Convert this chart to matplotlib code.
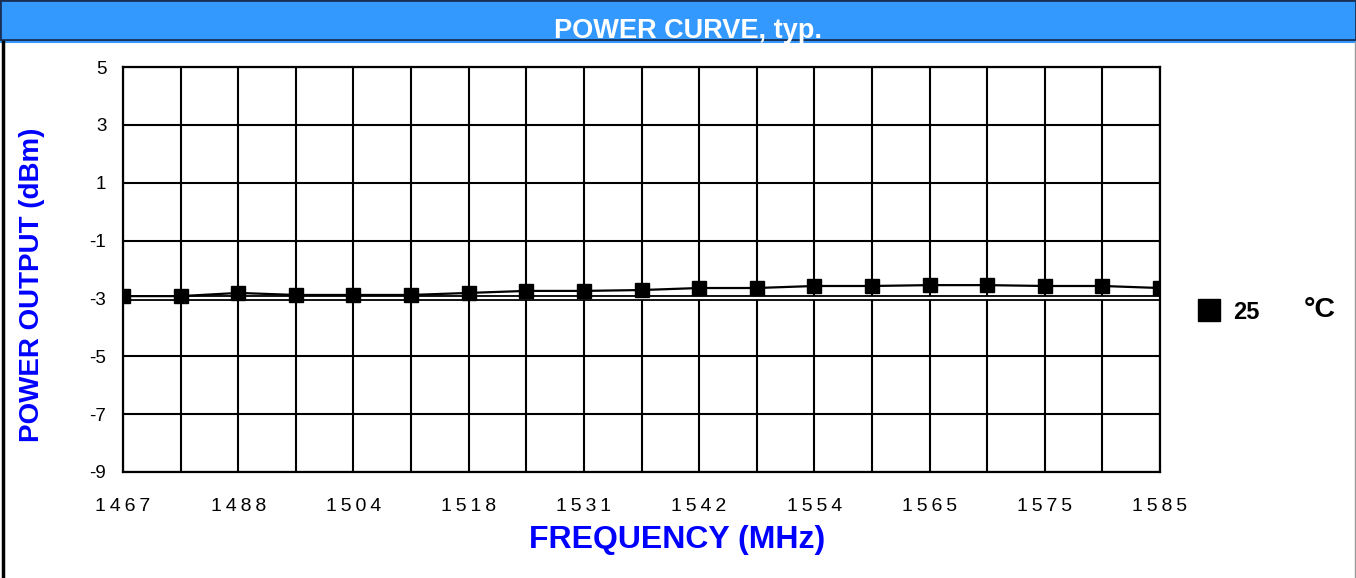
import matplotlib
matplotlib.use("Agg")
import matplotlib.pyplot as plt
from matplotlib.lines import Line2D
from matplotlib.patches import Rectangle

plt.rcParams['font.family'] = ['Liberation Sans', 'DejaVu Sans']

# data
freq_labels = ['1467', '', '1488', '', '1504', '', '1518', '', '1531', '',
               '1542', '', '1554', '', '1565', '', '1575', '', '1585']
power_25c = [-2.92, -2.92, -2.81, -2.88, -2.88, -2.88, -2.81, -2.74, -2.74, -2.71,
             -2.64, -2.64, -2.57, -2.57, -2.54, -2.54, -2.57, -2.57, -2.64]
y_ticks = [5, 3, 1, -1, -3, -5, -7, -9]
series_name = '25'

fig = plt.figure(figsize=(13.56, 5.78), dpi=100)
ax = fig.add_axes([123 / 1356, 1 - 472 / 578, (1160 - 123) / 1356, (472 - 67) / 578])

x = list(range(len(freq_labels)))

# grid
for xi in x:
    ax.axvline(xi, color='black', lw=1.5, zorder=1)
for yt in y_ticks:
    ax.axhline(yt, color='black', lw=1.5, zorder=1)
# the -3 line is doubled in the reference
ax.axhline(-3, color='black', lw=4.2, zorder=1)
ax.axhline(-3, color='white', lw=1.6, zorder=1)

ax.plot(x, power_25c, color='black', lw=1.6, marker='s', ms=10.5, zorder=3)

ax.set_xlim(0, len(freq_labels) - 1)
ax.set_ylim(-9, 5)
ax.set_yticks(y_ticks)
ax.set_yticklabels([str(v) for v in y_ticks], fontsize=13.5)
ax.set_xticks(x)
# reference labels are letter-spaced
ax.set_xticklabels(['\u2009'.join(s) for s in freq_labels], fontsize=14)
ax.tick_params(length=0)
ax.tick_params(axis='y', pad=12)
ax.tick_params(axis='x', pad=19)
for s in ax.spines.values():
    s.set_linewidth(1.6)

# header bar
fig.patches.append(Rectangle((0, 1 - 40 / 578), 1, 40 / 578, transform=fig.transFigure,
                             facecolor='#3399ff', edgecolor='#1b2f55', lw=2, zorder=0))
fig.lines.append(Line2D([0, 1], [1 - 42 / 578] * 2, transform=fig.transFigure,
                        color='#3399ff', lw=1.5))
fig.lines.append(Line2D([0.002, 0.002], [0, 1 - 42 / 578], transform=fig.transFigure,
                        color='black', lw=2.5))
fig.lines.append(Line2D([0.9995, 0.9995], [0, 1 - 42 / 578], transform=fig.transFigure,
                        color='#999999', lw=1))

fig.text(688 / 1356, 1 - 37.5 / 578, 'POWER CURVE, typ.', color='white',
         fontsize=19.5, fontweight='bold', ha='center', va='baseline')
fig.text(677 / 1356, 1 - 540 / 578, 'FREQUENCY (MHz)', color='#0000ff',
         fontsize=23, fontweight='bold', ha='center', va='center')
fig.text(32 / 1356, 1 - 285 / 578, 'POWER OUTPUT (dBm)', color='#0000ff',
         fontsize=20, fontweight='bold', ha='center', va='center', rotation=90)

# legend
fig.legend(handles=[Line2D([], [], marker='s', ls='none', color='black', ms=16)],
           labels=[series_name], loc='center left',
           bbox_to_anchor=(1176 / 1356, 1 - 312 / 578), frameon=False,
           handletextpad=0.5, handlelength=1.0, prop={'size': 17, 'weight': 'bold'})
fig.text(1304 / 1356, 1 - 317 / 578, '°C', fontsize=20.5, fontweight='bold',
         ha='left', va='baseline')

fig.savefig('out.png', dpi=100)
